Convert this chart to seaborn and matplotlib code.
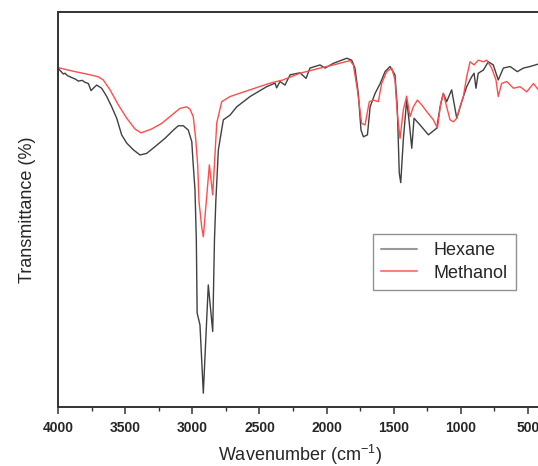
import matplotlib
matplotlib.use("Agg")
import matplotlib.pyplot as plt
from matplotlib.ticker import MultipleLocator
import seaborn as sns
import pandas as pd

# FTIR spectra: wavenumber (cm^-1) and transmittance (%)
hexane_wn = [3998, 3960, 3948, 3930, 3898, 3870, 3849, 3820, 3799, 3774, 3754, 3737,
             3712, 3675, 3637, 3600, 3563, 3526, 3488, 3439, 3389, 3340, 3278, 3204,
             3141, 3104, 3067, 3030, 3004, 2993, 2980, 2970, 2964, 2943, 2918, 2881,
             2848, 2835, 2825, 2806, 2769, 2719, 2669, 2570, 2446, 2384, 2372, 2347,
             2310, 2272, 2198, 2153, 2124, 2049, 2012, 1950, 1850, 1813, 1789, 1764,
             1744, 1726, 1696, 1676, 1639, 1601, 1565, 1528, 1491, 1474, 1459, 1448,
             1429, 1404, 1384, 1366, 1349, 1304, 1242, 1180, 1155, 1131, 1106, 1069,
             1031, 994, 957, 920, 902, 888, 871, 833, 796, 759, 722, 684, 634, 580,
             535, 485, 426]
hexane_t = [85.7, 84.3, 84.5, 83.9, 83.4, 83.0, 82.5, 82.7, 82.2, 81.9, 80.1, 80.7,
            81.5, 80.7, 78.6, 76.0, 73.1, 68.9, 66.8, 65.1, 63.8, 64.2, 65.9, 68.0,
            70.1, 71.2, 71.2, 70.1, 67.2, 61.3, 54.9, 42.3, 23.8, 20.8, 3.5, 30.9,
            19.1, 42.3, 52.0, 65.1, 72.7, 73.9, 76.0, 78.6, 81.1, 82.0, 80.8, 82.4,
            81.5, 84.1, 84.6, 83.2, 85.8, 86.6, 85.8, 87.0, 88.3, 87.8, 85.8, 79.4,
            70.1, 68.4, 68.9, 76.0, 79.4, 81.9, 84.9, 86.2, 84.1, 76.0, 59.2, 56.8,
            67.6, 77.7, 71.8, 65.5, 73.1, 71.4, 68.9, 70.6, 76.0, 79.4, 77.3, 80.3,
            73.1, 77.3, 81.1, 83.6, 84.5, 80.7, 84.5, 85.3, 87.4, 86.6, 82.8, 85.8,
            86.2, 84.9, 85.8, 86.2, 86.8]

methanol_wn = [3998, 3873, 3774, 3700, 3663, 3613, 3551, 3488, 3427, 3382, 3302, 3228,
               3153, 3092, 3042, 3017, 2993, 2975, 2960, 2950, 2930, 2918, 2873, 2848,
               2818, 2781, 2719, 2570, 2421, 2325, 2198, 2049, 1950, 1826, 1801, 1771,
               1739, 1714, 1682, 1652, 1615, 1590, 1553, 1515, 1491, 1474, 1453, 1429,
               1404, 1379, 1354, 1324, 1292, 1255, 1205, 1175, 1150, 1131, 1106, 1081,
               1056, 1031, 1007, 982, 957, 932, 902, 871, 833, 808, 771, 739, 722, 697,
               659, 609, 560, 510, 460, 426]
methanol_t = [85.9, 84.9, 84.2, 83.6, 82.8, 80.3, 76.5, 73.1, 70.4, 69.4, 70.4, 71.8,
              73.9, 75.6, 76.0, 75.4, 73.5, 68.0, 61.3, 52.0, 45.6, 43.1, 61.3, 53.7,
              71.9, 77.3, 78.6, 80.3, 82.0, 82.8, 84.5, 85.8, 86.6, 87.7, 86.6, 80.3,
              71.8, 71.4, 77.3, 77.7, 77.3, 81.9, 84.9, 85.8, 82.8, 74.4, 68.0, 75.2,
              78.7, 73.5, 76.0, 77.7, 76.5, 74.8, 72.7, 70.6, 76.9, 79.4, 76.0, 72.7,
              72.2, 73.1, 76.0, 78.6, 83.6, 87.4, 86.6, 87.8, 87.4, 87.8, 85.8, 82.8,
              78.6, 81.9, 82.4, 80.7, 81.1, 79.8, 81.9, 80.4]

x_ticks = [4000, 3500, 3000, 2500, 2000, 1500, 1000, 500]

sns.set_style("white")
plt.rcParams["font.family"] = ["Liberation Sans", "DejaVu Sans"]

hexane = pd.DataFrame({"wavenumber": hexane_wn, "T": hexane_t})
methanol = pd.DataFrame({"wavenumber": methanol_wn, "T": methanol_t})

fig = plt.figure(figsize=(5.38, 4.66), dpi=100)
ax = fig.add_axes([58 / 538, 59 / 466, 483.5 / 538, 395 / 466])

sns.lineplot(data=hexane, x="wavenumber", y="T", ax=ax, color="#404040",
             lw=1.0, label="Hexane", estimator=None)
sns.lineplot(data=methanol, x="wavenumber", y="T", ax=ax, color="#ff4d4d",
             lw=1.0, label="Methanol", estimator=None)

ax.set_xlim(4000, 400)
ax.set_ylim(0, 100)
ax.set_xticks(x_ticks)
ax.set_xticklabels([str(t) for t in x_ticks], fontsize=10, fontweight="bold")
ax.xaxis.set_minor_locator(MultipleLocator(250))
ax.tick_params(axis="x", which="major", direction="out", length=5, width=1.1,
               color="#333333", pad=5, bottom=True)
ax.tick_params(axis="x", which="minor", direction="out", length=3, width=1.0,
               color="#333333", bottom=True)
ax.set_yticks([])

for side in ["left", "bottom", "top", "right"]:
    ax.spines[side].set_visible(True)
    ax.spines[side].set_color("#333333")
    ax.spines[side].set_linewidth(1.4)

ax.set_xlabel("Wavenumber (cm$^{\\mathregular{-1}}$)", fontsize=13, labelpad=6)
ax.set_ylabel("Transmittance (%)", fontsize=13, labelpad=16)

leg = ax.legend(loc="upper right", bbox_to_anchor=(0.947, 0.438), fontsize=13,
                frameon=True, fancybox=False, edgecolor="#777777",
                handlelength=2.0, handletextpad=0.9, borderpad=0.45,
                labelspacing=0.3, borderaxespad=0)
leg.get_frame().set_linewidth(1.0)
leg.get_lines()[0].set_color("#999999")
leg.get_lines()[1].set_color("#ff8080")
for line in leg.get_lines():
    line.set_linewidth(1.5)

fig.savefig("out.png", dpi=100)
